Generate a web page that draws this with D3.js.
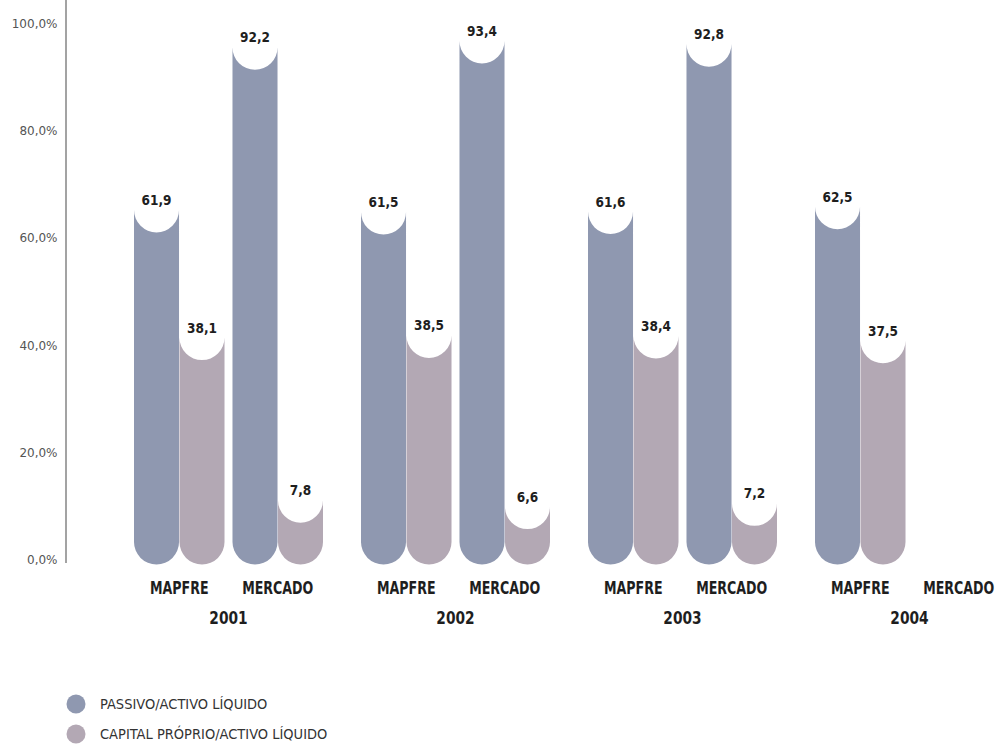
<!DOCTYPE html>
<html>
<head>
<meta charset="utf-8">
<script src="https://cdn.jsdelivr.net/npm/d3@7"></script>
<style>
  body { margin: 0; background: #fff; }
  svg { display: block; }
</style>
</head>
<body>
<svg width="996" height="746"></svg>
<script>
// data
const years = ["2001", "2002", "2003", "2004"];
const groups = ["MAPFRE", "MERCADO"];
const series = ["PASSIVO/ACTIVO LÍQUIDO", "CAPITAL PRÓPRIO/ACTIVO LÍQUIDO"];
const passivo = { MAPFRE: [61.9, 61.5, 61.6, 62.5], MERCADO: [92.2, 93.4, 92.8, null] };
const capital = { MAPFRE: [38.1, 38.5, 38.4, 37.5], MERCADO: [7.8, 6.6, 7.2, null] };
const yTicks = [0, 20, 40, 60, 80, 100];

const colors = ["#8f98b0", "#b3a8b4"];
const condensed = "'DejaVu Sans Condensed', sans-serif";

let svg = d3.select("svg");

let y = d3.scaleLinear().domain([0, 100]).range([564.5, 28]);

let x0 = d3.scaleBand().domain(years).range([134, 1004]).paddingInner(0.1674).paddingOuter(0);
let x1 = d3.scaleBand().domain(groups).range([0, x0.bandwidth()]).paddingInner(0.081);
let x2 = d3.scaleBand().domain(series).range([0, x1.bandwidth()]).paddingInner(0.01);

// flat table for drawing
let rows = [];
years.forEach((yr, i) => {
  groups.forEach(g => {
    [passivo, capital].forEach((s, k) => {
      if (s[g][i] != null) rows.push({ year: yr, group: g, serie: series[k], k: k, value: s[g][i] });
    });
  });
});

// axis
svg.append("line")
  .attr("x1", 66).attr("x2", 66)
  .attr("y1", 0).attr("y2", y(0) - 1.5)
  .attr("stroke", "#858585")
  .attr("stroke-width", 1.5);

svg.append("g").selectAll("text")
  .data(yTicks)
  .enter().append("text")
  .attr("x", 57.5)
  .attr("y", d => y(d) - 4.5)
  .attr("dy", "0.35em")
  .attr("text-anchor", "end")
  .attr("font-family", "'DejaVu Sans', sans-serif")
  .attr("font-size", 12)
  .attr("fill", "#555")
  .text(d => d.toFixed(1).replace(".", ",") + "%");

// bars: round bottom, concave top
function barPath(d) {
  let w = x2.bandwidth();
  let r = w / 2;
  let xa = x0(d.year) + x1(d.group) + x2(d.serie);
  let xb = xa + w;
  let yBase = y(0);
  let yTop = y(d.value) - r;
  return "M" + xa + "," + yTop +
    "L" + xa + "," + (yBase - r) +
    "A" + r + "," + r + " 0 0 0 " + xb + "," + (yBase - r) +
    "L" + xb + "," + yTop +
    "A" + r + "," + r + " 0 0 1 " + xa + "," + yTop + "Z";
}

svg.append("g").selectAll("path")
  .data(rows)
  .enter().append("path")
  .attr("d", barPath)
  .attr("fill", d => colors[d.k]);

svg.append("g").selectAll("text")
  .data(rows)
  .enter().append("text")
  .attr("x", d => x0(d.year) + x1(d.group) + x2(d.serie) + x2.bandwidth() / 2)
  .attr("y", d => y(d.value) - x2.bandwidth() / 2 - 5)
  .attr("text-anchor", "middle")
  .attr("font-family", condensed)
  .attr("font-weight", "bold")
  .attr("font-size", 13.5)
  .attr("fill", "#1e1e1e")
  .text(d => d.value.toFixed(1).replace(".", ","));

// category and year labels, squeezed like the narrow DIN of the original
years.forEach(yr => {
  svg.append("g").selectAll("text")
    .data(groups)
    .enter().append("text")
    .attr("transform", g => "translate(" + (x0(yr) + x1(g) + x1.bandwidth() / 2) + ",594) scale(0.78,1)")
    .attr("text-anchor", "middle")
    .attr("font-family", condensed)
    .attr("font-weight", "bold")
    .attr("font-size", 18)
    .attr("fill", "#1e1e1e")
    .text(g => g);
});

svg.append("g").selectAll("text")
  .data(years)
  .enter().append("text")
  .attr("transform", d => "translate(" + (x0(d) + x0.bandwidth() / 2) + ",624) scale(0.85,1)")
  .attr("text-anchor", "middle")
  .attr("font-family", condensed)
  .attr("font-weight", "bold")
  .attr("font-size", 18)
  .attr("fill", "#1e1e1e")
  .text(d => d);

// legend
let legend = svg.append("g").selectAll("g")
  .data(series)
  .enter().append("g")
  .attr("transform", (d, i) => "translate(76," + (704 + i * 30) + ")");

legend.append("circle")
  .attr("r", 9.5)
  .attr("fill", (d, i) => colors[i]);

legend.append("text")
  .attr("x", 24)
  .attr("dy", "0.35em")
  .attr("font-family", condensed)
  .attr("font-size", 14.5)
  .attr("fill", "#333")
  .text(d => d);
</script>
</body>
</html>
